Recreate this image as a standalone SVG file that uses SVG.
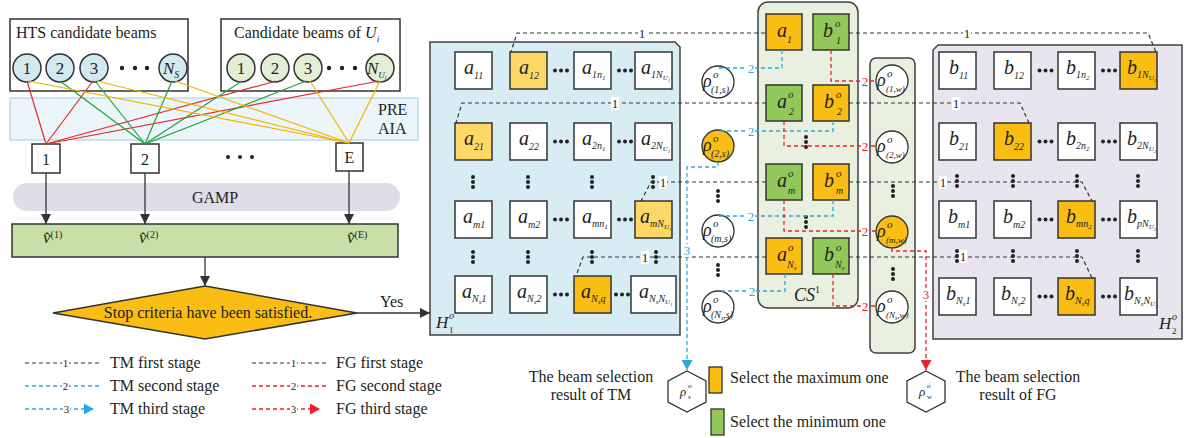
<svg xmlns="http://www.w3.org/2000/svg" xmlns:xlink="http://www.w3.org/1999/xlink" width="1187" height="438" viewBox="0 0 1187 438">
<style>
text{font-family:"Liberation Serif","Times New Roman",serif;fill:#231f20}
.it{font-style:italic}
.bx{fill:#fff;stroke:#333;stroke-width:1.5}
.c{stroke:#333;stroke-width:1.5}
.w{fill:#fff}.y{fill:#fdd866}.o{fill:#f9bd13}.g{fill:#92c85a}
.lb{font-style:italic;font-size:20px}
.sb{font-size:10px}
.ss{font-size:7px}
.s3{font-size:5px}
.d1{fill:none;stroke:#333;stroke-width:1.2;stroke-dasharray:4 3}
.d2{fill:none;stroke:#29a9e0;stroke-width:1.3;stroke-dasharray:4 3}
.d3{fill:none;stroke:#ec2227;stroke-width:1.3;stroke-dasharray:4 3}
.dot{fill:#222}
.lr{stroke:#e52a2a;stroke-width:1.2}
.lg{stroke:#1fa33a;stroke-width:1.2}
.lo{stroke:#f5b400;stroke-width:1.2}
.ar{stroke:#333;stroke-width:1.3;fill:none}
.n1{font-size:13px;text-anchor:middle}
.n2{font-size:13px;text-anchor:middle;fill:#29a9e0}
.n3{font-size:13px;text-anchor:middle;fill:#ec2227}
.lt{font-size:16px}
.rho{font-style:italic;font-size:18px}
.sup{font-style:italic;font-size:11px}
.sub{font-style:italic;font-size:10px}
.subw{font-style:italic;font-size:9px}
</style>
<defs>
<g id="vd"><circle class="dot" cx="0" cy="-5" r="2"/><circle class="dot" cx="0" cy="0" r="2"/><circle class="dot" cx="0" cy="5" r="2"/></g>
<g id="hd"><circle class="dot" cx="-6" cy="0" r="2"/><circle class="dot" cx="0" cy="0" r="2"/><circle class="dot" cx="6" cy="0" r="2"/></g>
<marker id="ak" markerUnits="userSpaceOnUse" markerWidth="10" markerHeight="10" refX="10" refY="5" orient="auto"><path d="M0,0 L10,5 L0,10 Z" fill="#333"/></marker>
<marker id="ab" markerUnits="userSpaceOnUse" markerWidth="11" markerHeight="11" refX="10" refY="5.5" orient="auto"><path d="M0,0 L10,5.5 L0,11 Z" fill="#29a9e0"/></marker>
<marker id="arr" markerUnits="userSpaceOnUse" markerWidth="11" markerHeight="11" refX="10" refY="5.5" orient="auto"><path d="M0,0 L10,5.5 L0,11 Z" fill="#ec2227"/></marker>
</defs>

<!-- PRE AIA band -->
<g id="preaia">
<rect x="10" y="98" width="408" height="42" fill="#ecf5f9" stroke="#a9d7e8" stroke-width="1.2"/>
<text class="lt" x="378" y="115">PRE</text>
<text class="lt" x="378" y="134">AIA</text>
</g>

<!-- GAMP -->
<g id="gamp">
<rect x="13" y="183" width="387" height="28" rx="14" fill="#e0dcea"/>
<text class="lt" x="215" y="203" text-anchor="middle">GAMP</text>
</g>

<!-- HTS box -->
<g id="hts">
<rect class="bx" x="10" y="19" width="178" height="72"/>
<text class="lt" x="16" y="38">HTS candidate beams</text>
<g fill="#d3e9f1" stroke="#333" stroke-width="1.5">
<circle cx="27" cy="68" r="14"/><circle cx="60" cy="68" r="14"/><circle cx="94" cy="68" r="14"/><circle cx="173" cy="68" r="14"/>
</g>
<text font-size="17" x="27" y="74" text-anchor="middle">1</text>
<text font-size="17" x="60" y="74" text-anchor="middle">2</text>
<text font-size="17" x="94" y="74" text-anchor="middle">3</text>
<text class="it" font-size="17" x="163" y="74">N<tspan font-size="10" dy="4">S</tspan></text>
<circle class="dot" cx="122" cy="68" r="2.2"/><circle class="dot" cx="135" cy="68" r="2.2"/><circle class="dot" cx="147" cy="68" r="2.2"/>
</g>

<!-- U_i box -->
<g id="ui">
<rect class="bx" x="221" y="19" width="179" height="72"/>
<text class="lt" x="234" y="38">Candidate beams of <tspan class="it">U</tspan><tspan class="it" font-size="9" dy="4">i</tspan></text>
<g fill="#e3eed6" stroke="#333" stroke-width="1.5">
<circle cx="241" cy="68" r="14"/><circle cx="275" cy="68" r="14"/><circle cx="308" cy="68" r="14"/><circle cx="380" cy="68" r="14"/>
</g>
<text font-size="17" x="241" y="74" text-anchor="middle">1</text>
<text font-size="17" x="275" y="74" text-anchor="middle">2</text>
<text font-size="17" x="308" y="74" text-anchor="middle">3</text>
<text class="it" font-size="17" x="367" y="74">N<tspan font-size="9" dy="4">U</tspan><tspan font-size="6" dy="2">i</tspan></text>
<circle class="dot" cx="329" cy="68" r="2.2"/><circle class="dot" cx="342" cy="68" r="2.2"/><circle class="dot" cx="355" cy="68" r="2.2"/>
</g>

<!-- boxes 1 2 E -->
<g id="b1"><rect class="bx" x="32" y="144" width="28" height="29"/><text class="lt" x="46" y="165" text-anchor="middle">1</text></g>
<g id="b2"><rect class="bx" x="131" y="144" width="28" height="29"/><text class="lt" x="145" y="165" text-anchor="middle">2</text></g>
<g id="bE"><rect class="bx" x="336" y="143" width="27" height="28"/><text class="lt" x="349.5" y="163" text-anchor="middle">E</text></g>
<g id="edots"><circle class="dot" cx="228" cy="157" r="2"/><circle class="dot" cx="240" cy="157" r="2"/><circle class="dot" cx="252" cy="157" r="2"/></g>

<!-- result rect -->
<g id="vres">
<rect x="12" y="224" width="386" height="33" fill="#c8e0a8" stroke="#333" stroke-width="1.5"/>
<text class="it" font-size="17" x="43" y="243">v̂<tspan font-style="normal" font-size="10" dy="-5">(1)</tspan></text>
<text class="it" font-size="17" x="139" y="243">v̂<tspan font-style="normal" font-size="10" dy="-5">(2)</tspan></text>
<text class="it" font-size="17" x="347" y="243">v̂<tspan font-style="normal" font-size="10" dy="-5">(E)</tspan></text>
</g>

<!-- diamond -->
<g id="stop">
<polygon points="205,286 357,313 205,339 53,313" fill="#f9bd13" stroke="#333" stroke-width="1.5"/>
<text class="lt" x="208" y="318" text-anchor="middle">Stop criteria have been satisfied.</text>
</g>

<!-- H1 matrix -->
<g id="H1">
<path d="M430,42 H675 L680,47 V335 H430 Z" fill="#d7ecf3" stroke="#404040" stroke-width="1.5"/>
<rect class="c w" x="455" y="52" width="37" height="37"/>
<rect class="c y" x="510" y="52" width="37" height="37"/>
<rect class="c w" x="574" y="52" width="37" height="37"/>
<rect class="c w" x="635" y="52" width="37" height="37"/>
<rect class="c y" x="455" y="123" width="37" height="37"/>
<rect class="c w" x="510" y="123" width="37" height="37"/>
<rect class="c w" x="574" y="123" width="37" height="37"/>
<rect class="c w" x="635" y="123" width="37" height="37"/>
<rect class="c w" x="455" y="201" width="37" height="37"/>
<rect class="c w" x="510" y="201" width="37" height="37"/>
<rect class="c w" x="574" y="201" width="37" height="37"/>
<rect class="c y" x="635" y="201" width="37" height="37"/>
<rect class="c w" x="455" y="276" width="37" height="37"/>
<rect class="c w" x="510" y="276" width="37" height="37"/>
<rect class="c o" x="574" y="276" width="37" height="37"/>
<rect class="c w" x="631" y="276" width="45" height="37"/>
<text class="lb" x="464" y="74">a<tspan class="sb" dy="5">11</tspan></text>
<text class="lb" x="519" y="74">a<tspan class="sb" dy="5">12</tspan></text>
<text class="lb" x="582" y="74">a<tspan class="sb" dy="4">1n</tspan><tspan class="ss" dy="2">1</tspan></text>
<text class="lb" x="641" y="74">a<tspan class="sb" dy="4">1N</tspan><tspan class="ss" dy="2">U</tspan><tspan class="s3" dy="1.5">1</tspan></text>
<text class="lb" x="464" y="145">a<tspan class="sb" dy="5">21</tspan></text>
<text class="lb" x="519" y="145">a<tspan class="sb" dy="5">22</tspan></text>
<text class="lb" x="582" y="145">a<tspan class="sb" dy="4">2n</tspan><tspan class="ss" dy="2">1</tspan></text>
<text class="lb" x="641" y="145">a<tspan class="sb" dy="4">2N</tspan><tspan class="ss" dy="2">U</tspan><tspan class="s3" dy="1.5">1</tspan></text>
<text class="lb" x="463" y="223">a<tspan class="sb" dy="5">m1</tspan></text>
<text class="lb" x="518" y="223">a<tspan class="sb" dy="5">m2</tspan></text>
<text class="lb" x="582" y="223">a<tspan class="sb" dy="4">mn</tspan><tspan class="ss" dy="2">1</tspan></text>
<text class="lb" x="640" y="223">a<tspan class="sb" dy="4">mN</tspan><tspan class="ss" dy="2">U</tspan><tspan class="s3" dy="1.5">1</tspan></text>
<text class="lb" x="462" y="298">a<tspan class="sb" dy="4">N</tspan><tspan class="ss" dy="2">s</tspan><tspan class="sb" dy="-2">1</tspan></text>
<text class="lb" x="517" y="298">a<tspan class="sb" dy="4">N</tspan><tspan class="ss" dy="2">s</tspan><tspan class="sb" dy="-2">2</tspan></text>
<text class="lb" x="581" y="298">a<tspan class="sb" dy="4">N</tspan><tspan class="ss" dy="2">s</tspan><tspan class="sb" dy="-2">q</tspan></text>
<text class="lb" x="639" y="298">a<tspan class="sb" dy="4">N</tspan><tspan class="ss" dy="2">s</tspan><tspan class="sb" dy="-2">N</tspan><tspan class="ss" dy="2">U</tspan><tspan class="s3" dy="1.5">1</tspan></text>
<use href="#hd" x="561" y="70.5"/><use href="#hd" x="625" y="70.5"/>
<use href="#hd" x="561" y="141.5"/><use href="#hd" x="625" y="141.5"/>
<use href="#hd" x="561" y="219.5"/><use href="#hd" x="625" y="219.5"/>
<use href="#hd" x="561" y="294.5"/><use href="#hd" x="622" y="294.5"/>
<use href="#vd" x="473" y="182"/><use href="#vd" x="528" y="182"/><use href="#vd" x="592" y="182"/><use href="#vd" x="653" y="182"/>
<use href="#vd" x="473" y="257"/><use href="#vd" x="528" y="257"/><use href="#vd" x="592" y="257"/><use href="#vd" x="656" y="257"/>
<text class="it" font-size="17" x="436" y="328">H</text><text class="it" font-size="10" x="449" y="319">o</text><text font-size="9" x="449" y="333">1</text>
</g>

<!-- H2 matrix -->
<g id="H2">
<path d="M938,45 H1182 V339 H933 V50 Z" fill="#e9e5ef" stroke="#404040" stroke-width="1.5"/>
<rect class="c w" x="939" y="52" width="37" height="37"/>
<rect class="c w" x="994" y="52" width="37" height="37"/>
<rect class="c w" x="1058" y="52" width="37" height="37"/>
<rect class="c o" x="1120" y="52" width="37" height="37"/>
<rect class="c w" x="939" y="123" width="37" height="37"/>
<rect class="c o" x="994" y="123" width="37" height="37"/>
<rect class="c w" x="1058" y="123" width="37" height="37"/>
<rect class="c w" x="1120" y="123" width="37" height="37"/>
<rect class="c w" x="939" y="201" width="37" height="37"/>
<rect class="c w" x="994" y="201" width="37" height="37"/>
<rect class="c o" x="1058" y="201" width="37" height="37"/>
<rect class="c w" x="1120" y="201" width="37" height="37"/>
<rect class="c w" x="939" y="278" width="37" height="37"/>
<rect class="c w" x="994" y="278" width="37" height="37"/>
<rect class="c o" x="1058" y="278" width="37" height="37"/>
<rect class="c w" x="1120" y="278" width="37" height="37"/>
<text class="lb" x="949" y="74">b<tspan class="sb" dy="5">11</tspan></text>
<text class="lb" x="1004" y="74">b<tspan class="sb" dy="5">12</tspan></text>
<text class="lb" x="1066" y="74">b<tspan class="sb" dy="4">1n</tspan><tspan class="ss" dy="2">2</tspan></text>
<text class="lb" x="1127" y="74">b<tspan class="sb" dy="4">1N</tspan><tspan class="ss" dy="2">U</tspan><tspan class="s3" dy="1.5">2</tspan></text>
<text class="lb" x="949" y="145">b<tspan class="sb" dy="5">21</tspan></text>
<text class="lb" x="1004" y="145">b<tspan class="sb" dy="5">22</tspan></text>
<text class="lb" x="1066" y="145">b<tspan class="sb" dy="4">2n</tspan><tspan class="ss" dy="2">2</tspan></text>
<text class="lb" x="1127" y="145">b<tspan class="sb" dy="4">2N</tspan><tspan class="ss" dy="2">U</tspan><tspan class="s3" dy="1.5">2</tspan></text>
<text class="lb" x="948" y="223">b<tspan class="sb" dy="5">m1</tspan></text>
<text class="lb" x="1003" y="223">b<tspan class="sb" dy="5">m2</tspan></text>
<text class="lb" x="1066" y="223">b<tspan class="sb" dy="4">mn</tspan><tspan class="ss" dy="2">2</tspan></text>
<text class="lb" x="1127" y="223">b<tspan class="sb" dy="4">pN</tspan><tspan class="ss" dy="2">U</tspan><tspan class="s3" dy="1.5">2</tspan></text>
<text class="lb" x="946" y="300">b<tspan class="sb" dy="4">N</tspan><tspan class="ss" dy="2">s</tspan><tspan class="sb" dy="-2">1</tspan></text>
<text class="lb" x="1001" y="300">b<tspan class="sb" dy="4">N</tspan><tspan class="ss" dy="2">s</tspan><tspan class="sb" dy="-2">2</tspan></text>
<text class="lb" x="1065" y="300">b<tspan class="sb" dy="4">N</tspan><tspan class="ss" dy="2">s</tspan><tspan class="sb" dy="-2">q</tspan></text>
<text class="lb" x="1124" y="300">b<tspan class="sb" dy="4">N</tspan><tspan class="ss" dy="2">s</tspan><tspan class="sb" dy="-2">N</tspan><tspan class="ss" dy="2">U</tspan><tspan class="s3" dy="1.5">2</tspan></text>
<use href="#hd" x="1045.5" y="70.5"/><use href="#hd" x="1109" y="70.5"/>
<use href="#hd" x="1045.5" y="141.5"/><use href="#hd" x="1109" y="141.5"/>
<use href="#hd" x="1045.5" y="219.5"/><use href="#hd" x="1109" y="219.5"/>
<use href="#hd" x="1045.5" y="296.5"/><use href="#hd" x="1109" y="296.5"/>
<use href="#vd" x="957" y="181"/><use href="#vd" x="1013" y="181"/><use href="#vd" x="1077" y="181"/><use href="#vd" x="1138" y="181"/>
<use href="#vd" x="957" y="256"/><use href="#vd" x="1013" y="256"/><use href="#vd" x="1077" y="256"/><use href="#vd" x="1138" y="256"/>
<text class="it" font-size="17" x="1159" y="329">H</text><text class="it" font-size="10" x="1172" y="320">o</text><text font-size="9" x="1172" y="334">2</text>
</g>

<!-- CS column -->
<g id="CS">
<rect x="758" y="2" width="100" height="306" rx="10" fill="#e9f0df" stroke="#404040" stroke-width="1.5"/>
<rect class="c o" x="766" y="14" width="36" height="36"/>
<rect class="c g" x="813" y="14" width="36" height="36"/>
<rect class="c g" x="766" y="85" width="36" height="36"/>
<rect class="c o" x="813" y="85" width="36" height="36"/>
<rect class="c g" x="766" y="164" width="36" height="36"/>
<rect class="c o" x="813" y="164" width="36" height="36"/>
<rect class="c o" x="766" y="238" width="36" height="36"/>
<rect class="c g" x="813" y="238" width="36" height="36"/>
<text class="lb" x="777" y="37">a<tspan class="sb" dy="6">1</tspan></text>
<text class="lb" x="823" y="37">b</text><text class="sup" x="835" y="27">o</text><text class="sub" x="836" y="44">1</text>
<text class="lb" x="777" y="108">a</text><text class="sup" x="788" y="98">o</text><text class="sub" x="789" y="115">2</text>
<text class="lb" x="824" y="108">b</text><text class="sup" x="836" y="98">o</text><text class="sub" x="837" y="115">2</text>
<text class="lb" x="777" y="187">a</text><text class="sup" x="788" y="177">o</text><text class="sub" x="788" y="194">m</text>
<text class="lb" x="824" y="187">b</text><text class="sup" x="836" y="177">o</text><text class="sub" x="836" y="194">m</text>
<text class="lb" x="777" y="261">a</text><text class="sup" x="788" y="251">o</text><text class="sub" x="787" y="268">N<tspan font-size="7" dy="2">s</tspan></text>
<text class="lb" x="824" y="261">b</text><text class="sup" x="836" y="251">o</text><text class="sub" x="835" y="268">N<tspan font-size="7" dy="2">s</tspan></text>
<use href="#vd" x="806" y="142"/><use href="#vd" x="806" y="222"/>
<text class="it" font-size="18" x="794" y="301">CS</text><text font-size="10" x="815" y="293">1</text>
</g>

<!-- left rho circles -->
<g id="rhos">
<circle cx="718" cy="82" r="16" fill="#fff" stroke="#333" stroke-width="1.3"/>
<circle cx="718" cy="146" r="16" fill="#f9bd13" stroke="#333" stroke-width="1.3"/>
<circle cx="718" cy="231" r="16" fill="#fff" stroke="#333" stroke-width="1.3"/>
<circle cx="718" cy="307" r="16" fill="#fff" stroke="#333" stroke-width="1.3"/>
<text class="rho" x="703" y="87">ρ</text><text class="sup" x="713" y="78">o</text><text class="sub" x="711" y="93">(1,s)</text>
<text class="rho" x="703" y="151">ρ</text><text class="sup" x="713" y="142">o</text><text class="sub" x="711" y="157">(2,s)</text>
<text class="rho" x="703" y="236">ρ</text><text class="sup" x="713" y="227">o</text><text class="sub" x="711" y="242">(m,s)</text>
<text class="rho" x="703" y="312">ρ</text><text class="sup" x="713" y="303">o</text><text class="sub" x="711" y="318">(N<tspan font-size="6" dy="2">s</tspan><tspan dy="-2">,s)</tspan></text>
<use href="#vd" x="718" y="196"/><use href="#vd" x="718" y="270"/>
</g>

<!-- right rho column -->
<g id="rhow">
<rect x="870" y="58" width="45" height="295" rx="6" fill="#e9f0df" stroke="#404040" stroke-width="1.5"/>
<circle cx="892" cy="81" r="16" fill="#fff" stroke="#333" stroke-width="1.3"/>
<circle cx="892" cy="147" r="16" fill="#fff" stroke="#333" stroke-width="1.3"/>
<circle cx="892" cy="232" r="16" fill="#f9bd13" stroke="#333" stroke-width="1.3"/>
<circle cx="892" cy="307" r="16" fill="#fff" stroke="#333" stroke-width="1.3"/>
<text class="rho" x="877" y="86">ρ</text><text class="sup" x="887" y="77">o</text><text class="subw" x="886" y="92">(1,w)</text>
<text class="rho" x="877" y="152">ρ</text><text class="sup" x="887" y="143">o</text><text class="subw" x="886" y="158">(2,w)</text>
<text class="rho" x="877" y="237">ρ</text><text class="sup" x="887" y="228">o</text><text class="subw" x="886" y="243">(m,w)</text>
<text class="rho" x="877" y="312">ρ</text><text class="sup" x="887" y="303">o</text><text class="subw" x="886" y="318">(N<tspan font-size="6" dy="2">s</tspan><tspan dy="-2">,w)</tspan></text>
<use href="#vd" x="893" y="191"/><use href="#vd" x="893" y="274"/>
</g>

<!-- result hexagons -->
<g id="hexs">
<polygon points="687,371 706,381 706,402 687,412 668,402 668,381" fill="#fff" stroke="#333" stroke-width="1.3"/>
<text class="it" font-size="13" x="680" y="396">ρ</text><text class="it" font-size="7" x="688" y="388">o</text><text class="it" font-size="7" x="688" y="399">s</text>
</g>
<g id="hexw">
<polygon points="926,371 945,381 945,402 926,412 907,402 907,381" fill="#fff" stroke="#333" stroke-width="1.3"/>
<text class="it" font-size="13" x="919" y="396">ρ</text><text class="it" font-size="7" x="927" y="388">o</text><text class="it" font-size="7" x="927" y="399">w</text>
</g>

<!-- connectors -->
<g id="connectors">
<line class="lr" x1="27" y1="81" x2="46" y2="144"/>
<line class="lr" x1="93" y1="81" x2="46" y2="144"/>
<line class="lr" x1="276" y1="81" x2="46" y2="144"/>
<line class="lr" x1="379" y1="81" x2="46" y2="144"/>
<line class="lg" x1="60" y1="81" x2="145" y2="144"/>
<line class="lg" x1="95" y1="81" x2="145" y2="144"/>
<line class="lg" x1="172" y1="81" x2="145" y2="144"/>
<line class="lg" x1="242" y1="81" x2="145" y2="144"/>
<line class="lg" x1="306" y1="81" x2="145" y2="144"/>
<line class="lo" x1="28" y1="81" x2="349" y2="143"/>
<line class="lo" x1="97" y1="81" x2="349" y2="143"/>
<line class="lo" x1="175" y1="81" x2="349" y2="143"/>
<line class="lo" x1="310" y1="81" x2="349" y2="143"/>
<line class="lo" x1="380" y1="81" x2="349" y2="143"/>

<line class="ar" x1="46" y1="173" x2="46" y2="224" marker-end="url(#ak)"/>
<line class="ar" x1="145" y1="173" x2="145" y2="224" marker-end="url(#ak)"/>
<line class="ar" x1="349" y1="171" x2="349" y2="224" marker-end="url(#ak)"/>
<line class="ar" x1="205" y1="257" x2="205" y2="286" marker-end="url(#ak)"/>
<line class="ar" x1="357" y1="313" x2="430" y2="313" marker-end="url(#ak)"/>
<text font-size="16" x="380" y="307">Yes</text>

<!-- TM first stage -->
<path class="d1" d="M765,33 H517 L511,52"/>
<path class="d1" d="M766,103 H462 L456,123"/>
<path class="d1" d="M766,182 H651 L641,201"/>
<path class="d1" d="M766,257 H583 L576,276"/>
<!-- FG first stage -->
<path class="d1" d="M849,33 H1148 L1156,52"/>
<path class="d1" d="M849,103 H1020 L1029,123"/>
<path class="d1" d="M849,182 H1082 L1092,201"/>
<path class="d1" d="M849,257 H1082 L1092,278"/>
<!-- TM second stage -->
<path class="d2" d="M782,50 V68 H718"/>
<path class="d2" d="M833,121 V131 H718"/>
<path class="d2" d="M833,200 V216 H718"/>
<path class="d2" d="M785,274 V291 H718"/>
<!-- TM third -->
<path class="d2" d="M718,162 V167 H687 V370" marker-end="url(#ab)"/>
<!-- FG second stage -->
<path class="d3" d="M831,50 V81 H876"/>
<path class="d3" d="M784,121 V146 H876"/>
<path class="d3" d="M784,200 V231 H876"/>
<path class="d3" d="M833,274 V306 H876"/>
<!-- FG third -->
<path class="d3" d="M892,248 V251 H926 V370" marker-end="url(#arr)"/>

<g fill="#fff">
<rect x="638" y="27" width="8" height="13"/><rect x="611" y="97" width="8" height="13"/><rect x="659" y="176" width="8" height="13"/><rect x="641" y="251" width="8" height="13"/>
<rect x="963" y="27" width="8" height="13"/><rect x="952" y="97" width="8" height="13"/><rect x="939" y="176" width="8" height="13"/><rect x="959" y="250" width="8" height="13"/>
<rect x="747" y="62" width="8" height="13"/><rect x="747" y="125" width="8" height="13"/><rect x="747" y="210" width="8" height="13"/><rect x="748" y="285" width="8" height="13"/>
<rect x="683" y="244" width="8" height="13"/>
<rect x="861" y="75" width="8" height="13"/><rect x="861" y="140" width="8" height="13"/><rect x="861" y="225" width="8" height="13"/><rect x="861" y="300" width="8" height="13"/>
<rect x="922" y="288" width="8" height="13"/>
</g>
<text class="n1" x="642" y="38">1</text><text class="n1" x="615" y="108">1</text><text class="n1" x="663" y="187">1</text><text class="n1" x="645" y="262">1</text>
<text class="n1" x="967" y="38">1</text><text class="n1" x="956" y="108">1</text><text class="n1" x="943" y="187">1</text><text class="n1" x="963" y="261">1</text>
<text class="n2" x="751" y="73">2</text><text class="n2" x="751" y="136">2</text><text class="n2" x="751" y="221">2</text><text class="n2" x="752" y="296">2</text>
<text class="n2" x="687" y="255">3</text>
<text class="n3" x="865" y="86">2</text><text class="n3" x="865" y="151">2</text><text class="n3" x="865" y="236">2</text><text class="n3" x="865" y="311">2</text>
<text class="n3" x="926" y="299">3</text>
</g>

<!-- legend left -->
<g id="legend">
<path class="d1" d="M25,363 H100"/>
<path class="d2" d="M25,386 H100"/>
<path class="d2" d="M25,409 H94" marker-end="url(#ab)"/>
<path class="d1" d="M252,363 H328"/>
<path class="d3" d="M252,386 H328"/>
<path class="d3" d="M252,409 H320" marker-end="url(#arr)"/>
<g fill="#fff"><rect x="62" y="357" width="7" height="11"/><rect x="62" y="380" width="7" height="11"/><rect x="63" y="403" width="7" height="11"/><rect x="290" y="357" width="7" height="11"/><rect x="290" y="380" width="7" height="11"/><rect x="290" y="403" width="7" height="11"/></g>
<text font-size="11" x="65.5" y="367" text-anchor="middle">1</text>
<text font-size="11" x="65.5" y="390" text-anchor="middle" fill="#29a9e0">2</text>
<text font-size="11" x="66.5" y="413" text-anchor="middle" fill="#29a9e0">3</text>
<text font-size="11" x="293.5" y="367" text-anchor="middle">1</text>
<text font-size="11" x="293.5" y="390" text-anchor="middle" fill="#ec2227">2</text>
<text font-size="11" x="293.5" y="413" text-anchor="middle" fill="#ec2227">3</text>
<text class="lt" x="110" y="368">TM first stage</text>
<text class="lt" x="110" y="391">TM second stage</text>
<text class="lt" x="110" y="414">TM third stage</text>
<text class="lt" x="336" y="368">FG first stage</text>
<text class="lt" x="336" y="391">FG second stage</text>
<text class="lt" x="336" y="414">FG third stage</text>
</g>

<!-- legend bottom -->
<g id="legend2">
<text class="lt" x="591" y="382" text-anchor="middle">The beam selection</text>
<text class="lt" x="591" y="400" text-anchor="middle">result of TM</text>
<rect x="709" y="367" width="13" height="26" fill="#f9bd13" stroke="#333" stroke-width="1.3"/>
<text class="lt" x="730" y="383">Select the maximum one</text>
<rect x="711" y="409" width="13" height="26" fill="#92c85a" stroke="#333" stroke-width="1.3"/>
<text class="lt" x="730" y="427">Select the minimum one</text>
<text class="lt" x="1018" y="382" text-anchor="middle">The beam selection</text>
<text class="lt" x="1018" y="400" text-anchor="middle">result of FG</text>
</g>
</svg>
